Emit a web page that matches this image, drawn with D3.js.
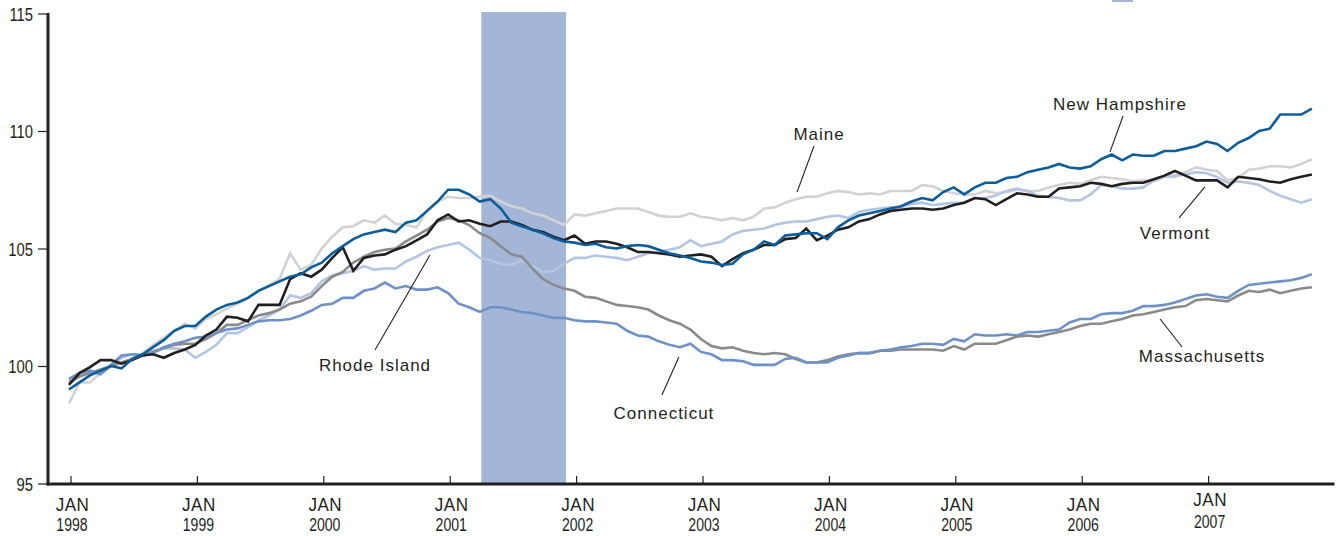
<!DOCTYPE html>
<html><head><meta charset="utf-8">
<script src="https://cdn.jsdelivr.net/npm/d3@7"></script>
<style>
body{margin:0;background:#fff}
svg{display:block;font-family:"Liberation Sans",Arial,Helvetica,sans-serif}
</style>
</head><body>
<svg id="chart" width="1340" height="536"></svg>
<script>
// ---------------- DATA ----------------
const startYear = 1998;            // monthly series, first value = Jan 1998
const tickYears = [1998, 1999, 2000, 2001, 2002, 2003, 2004, 2005, 2006, 2007];
const tickMonth = "JAN";
const yTicks = [95, 100, 105, 110, 115];
const recession = [2001.25, 2001.92];

const newHampshire = [
  99.0, 99.3, 99.6, 99.8, 100.0, 99.9, 100.3, 100.5, 100.8, 101.1, 101.5, 101.7,
  101.7, 102.1, 102.4, 102.6, 102.7, 102.9, 103.2, 103.4, 103.6, 103.8, 103.9, 104.2,
  104.4, 104.8, 105.1, 105.4, 105.6, 105.7, 105.8, 105.7, 106.1, 106.2, 106.6, 107.0,
  107.5, 107.5, 107.3, 107.0, 107.1, 106.7, 106.1, 105.95, 105.8, 105.65, 105.45, 105.3,
  105.25, 105.15, 105.2, 105.05, 105.0, 105.1, 105.15, 105.1, 104.95, 104.8, 104.7, 104.6,
  104.45, 104.4, 104.3, 104.35, 104.75, 104.95, 105.3, 105.15, 105.55, 105.6, 105.65, 105.65,
  105.4, 105.9, 106.2, 106.4, 106.5, 106.6, 106.7, 106.8, 107.0, 107.15, 107.05, 107.4,
  107.6, 107.3, 107.6, 107.8, 107.8, 108.0, 108.05, 108.25, 108.35, 108.45, 108.6, 108.45,
  108.4, 108.5, 108.8, 109.0, 108.75, 109.0, 108.95, 108.95, 109.15, 109.15, 109.25, 109.35,
  109.55, 109.45, 109.15, 109.5, 109.7, 110.0, 110.1, 110.7, 110.7, 110.7, 110.95
];
const maine = [
  98.4, 99.3, 99.3, 99.7, 100.0, 100.15, 100.3, 100.55, 100.9, 101.2, 101.5, 101.8,
  101.6, 102.0, 102.2, 102.45, 102.65, 102.9, 103.2, 103.45, 103.7, 104.8, 104.1, 104.3,
  105.0, 105.5, 105.9, 105.95, 106.2, 106.1, 106.4, 106.05, 106.0, 105.9, 106.6, 107.0,
  107.2, 107.15, 107.15, 107.2, 107.25, 107.0, 106.8, 106.7, 106.5, 106.4, 106.2, 106.0,
  106.45, 106.4, 106.5, 106.6, 106.7, 106.7, 106.7, 106.55, 106.4, 106.35, 106.35, 106.5,
  106.35, 106.3, 106.2, 106.3, 106.2, 106.35, 106.7, 106.75, 106.95, 107.1, 107.2, 107.2,
  107.35, 107.45, 107.4, 107.3, 107.35, 107.3, 107.45, 107.45, 107.45, 107.7, 107.65, 107.45,
  107.35, 107.3, 107.3, 107.45, 107.35, 107.4, 107.5, 107.45, 107.45, 107.6, 107.7, 107.8,
  107.75, 107.9, 108.05, 108.0, 107.95, 107.85, 107.9, 107.85, 108.05, 108.05, 108.25, 108.45,
  108.35, 108.3, 107.9, 108.0, 108.35, 108.4, 108.5, 108.5, 108.45, 108.6, 108.8
];
const vermont = [
  99.2, 99.7, 99.95, 100.25, 100.25, 100.1, 100.25, 100.45, 100.5, 100.35, 100.55, 100.7,
  100.9, 101.3, 101.55, 102.1, 102.05, 101.9, 102.6, 102.6, 102.6, 103.7, 103.95, 103.8,
  104.1, 104.6, 105.05, 104.05, 104.6, 104.7, 104.75, 104.95, 105.1, 105.35, 105.6, 106.2,
  106.45, 106.15, 106.2, 106.05, 105.95, 106.15, 106.15, 106.0, 105.8, 105.7, 105.5, 105.35,
  105.55, 105.2, 105.3, 105.3, 105.2, 105.05, 104.85, 104.85, 104.8, 104.75, 104.65, 104.7,
  104.75, 104.65, 104.25, 104.55, 104.8, 104.95, 105.15, 105.15, 105.4, 105.45, 105.85, 105.35,
  105.55, 105.8, 105.9, 106.15, 106.25, 106.45, 106.6, 106.65, 106.7, 106.7, 106.65, 106.7,
  106.85, 106.95, 107.15, 107.1, 106.85, 107.1, 107.35, 107.3, 107.2, 107.2, 107.55, 107.6,
  107.65, 107.8, 107.75, 107.65, 107.75, 107.8, 107.8, 107.95, 108.1, 108.3, 108.1, 107.9,
  107.9, 107.9, 107.6, 108.05, 108.0, 107.95, 107.85, 107.8, 107.95, 108.05, 108.15
];
const rhodeIsland = [
  99.4, 99.6, 99.8, 99.65, 100.0, 100.35, 100.5, 100.5, 100.65, 100.75, 100.75, 100.7,
  100.35, 100.6, 100.9, 101.4, 101.4, 101.65, 101.95, 102.15, 102.4, 103.0, 102.9, 103.1,
  103.6, 103.85, 103.95, 104.05, 104.25, 104.1, 104.15, 104.15, 104.45, 104.65, 104.9, 105.05,
  105.15, 105.25, 104.95, 104.6, 104.5, 104.35, 104.3, 104.5, 104.25, 104.0, 104.05, 104.35,
  104.6, 104.6, 104.7, 104.65, 104.6, 104.5, 104.65, 104.8, 104.85, 104.95, 105.05, 105.35,
  105.1, 105.2, 105.3, 105.6, 105.75, 105.8, 105.85, 106.0, 106.1, 106.15, 106.15, 106.25,
  106.35, 106.4, 106.3, 106.55, 106.65, 106.7, 106.75, 106.75, 106.9, 106.95, 106.85, 106.9,
  106.95, 106.95, 107.15, 107.15, 107.25, 107.45, 107.55, 107.45, 107.25, 107.2, 107.15, 107.05,
  107.05, 107.3, 107.7, 107.65, 107.55, 107.55, 107.6, 107.9, 108.05, 108.1, 108.15, 108.25,
  108.2, 108.05, 107.8, 107.85, 107.8, 107.7, 107.45, 107.25, 107.1, 106.95, 107.1
];
const connecticut = [
  99.45, 99.7, 99.8, 99.65, 100.05, 100.45, 100.5, 100.45, 100.55, 100.8, 100.95, 101.05,
  101.2, 101.25, 101.4, 101.55, 101.6, 101.75, 101.9, 101.95, 101.95, 102.0, 102.15, 102.35,
  102.6, 102.65, 102.9, 102.9, 103.2, 103.3, 103.55, 103.3, 103.4, 103.25, 103.25, 103.35,
  103.1, 102.65, 102.5, 102.3, 102.5, 102.5, 102.4, 102.3, 102.25, 102.15, 102.05, 102.05,
  101.95, 101.9, 101.9, 101.85, 101.8, 101.5, 101.3, 101.25, 101.05, 100.9, 100.8, 100.95,
  100.6, 100.5, 100.25, 100.25, 100.2, 100.05, 100.05, 100.05, 100.3, 100.35, 100.15, 100.15,
  100.15, 100.35, 100.45, 100.55, 100.55, 100.65, 100.7, 100.8, 100.85, 100.95, 100.95, 100.9,
  101.15, 101.05, 101.35, 101.3, 101.3, 101.35, 101.3, 101.45, 101.45, 101.5, 101.55, 101.85,
  102.0, 102.0, 102.2, 102.25, 102.25, 102.35, 102.55, 102.55, 102.6, 102.7, 102.85, 103.0,
  103.05, 102.95, 102.9, 103.2, 103.45, 103.5, 103.55, 103.6, 103.65, 103.75, 103.9
];
const massachusetts = [
  99.3, 99.55, 99.7, 99.85, 100.0, 100.15, 100.3, 100.45, 100.6, 100.75, 100.9, 100.95,
  100.95, 101.15, 101.4, 101.75, 101.75, 101.95, 102.15, 102.25, 102.4, 102.65, 102.75, 102.95,
  103.4, 103.8, 104.0, 104.4, 104.65, 104.85, 104.95, 105.0, 105.3, 105.55, 105.8, 106.15,
  106.3, 106.2, 106.0, 105.65, 105.45, 105.1, 104.75, 104.65, 104.15, 103.7, 103.45, 103.3,
  103.2, 102.95, 102.9, 102.75, 102.6, 102.55, 102.5, 102.4, 102.15, 101.95, 101.8, 101.55,
  101.15, 100.85, 100.75, 100.8, 100.65, 100.55, 100.5, 100.55, 100.5, 100.3, 100.15, 100.15,
  100.25, 100.4, 100.5, 100.55, 100.55, 100.65, 100.65, 100.7, 100.7, 100.7, 100.7, 100.65,
  100.85, 100.7, 100.95, 100.95, 100.95, 101.1, 101.25, 101.3, 101.25, 101.35, 101.45, 101.55,
  101.7, 101.8, 101.8, 101.9, 102.0, 102.15, 102.2, 102.3, 102.4, 102.5, 102.55, 102.8,
  102.85, 102.8, 102.75, 103.0, 103.2, 103.15, 103.25, 103.1, 103.2, 103.3, 103.35
];

// series in drawing order (bottom to top)
const seriesNames  = ["Maine", "Rhode Island", "Massachusetts", "Connecticut", "Vermont", "New Hampshire"];
const seriesValues = [maine, rhodeIsland, massachusetts, connecticut, vermont, newHampshire];
const seriesColors = ["#d2d2d2", "#b3c5e3", "#8a8a8a", "#6e92c8", "#231f20", "#0b5d9c"];

// label text, label anchor [year, value], pointer from [year,value] to [year,value]
const labelNames  = ["Maine", "New Hampshire", "Vermont", "Massachusetts", "Connecticut", "Rhode Island"];
const labelAnchor = [[2003.922, 109.62], [2006.303, 110.89], [2006.738, 105.40], [2006.952, 100.17], [2002.695, 97.75], [2000.409, 99.79]];
const pointerFrom = [[2003.748, 107.40], [2006.224, 109.11], [2006.770, 106.30], [2006.794, 100.81], [2002.679, 98.77], [2000.409, 100.68]];
const pointerTo   = [[2003.882, 109.36], [2006.327, 110.64], [2006.975, 107.62], [2006.620, 102.00], [2002.813, 100.38], [2000.844, 104.72]];

// ---------------- CHART ----------------
const svg = d3.select("#chart");
const ink = "#231f20";
const x = d3.scaleLinear().domain([1997.822, 2008]).range([48, 1334.5]);
const y = d3.scaleLinear().domain([95, 115]).range([483.5, 13.5]);
const monthTime = i => startYear + (i - 0.15) / 12;

// cut-off legend swatch at top edge
svg.append("rect").attr("x", 1112).attr("y", -10).attr("width", 21).attr("height", 12).attr("fill", "#a4b6d8");

// recession band
svg.append("rect")
  .attr("x", x(recession[0])).attr("y", y(115) - 1.5)
  .attr("width", x(recession[1]) - x(recession[0]))
  .attr("height", y(95) - y(115) + 1.5)
  .attr("fill", "#a4b6d8");

// lines
const line = d3.line().x((d, i) => x(monthTime(i))).y(d => y(d));
seriesValues.forEach((vals, k) => {
  svg.append("path").datum(vals)
    .attr("d", line)
    .attr("fill", "none")
    .attr("stroke", seriesColors[k])
    .attr("stroke-width", 2.6)
    .attr("stroke-linejoin", "miter")
    .attr("stroke-miterlimit", 3);
});

// y axis
const yAxis = svg.append("g").attr("transform", "translate(48,0)")
  .call(d3.axisLeft(y).tickValues(yTicks).tickSize(10).tickFormat(""));
yAxis.select(".domain").remove();
yAxis.selectAll(".tick line").attr("stroke", ink).attr("stroke-width", 1.2);
yAxis.selectAll(".tick").append("text")
  .attr("transform", "translate(-15,6.8) scale(0.78,1)")
  .attr("text-anchor", "end").attr("fill", ink)
  .style("font-size", "19px")
  .text(d => d3.format("d")(d));

// x axis
const xAxis = svg.append("g").attr("transform", "translate(0,484)")
  .call(d3.axisBottom(x).tickValues(tickYears).tickSize(-8).tickFormat(""));
xAxis.select(".domain").remove();
xAxis.selectAll(".tick line").attr("stroke", ink).attr("stroke-width", 1.2);
const lift = d => (d === 2007 ? -5 : 0);
xAxis.selectAll(".tick").append("text")
  .attr("transform", d => `translate(1.5,${27 + lift(d)}) scale(0.95,1)`)
  .attr("text-anchor", "middle").attr("fill", ink)
  .style("font-size", "18px").style("letter-spacing", "0.5px")
  .text(tickMonth);
xAxis.selectAll(".tick").append("text")
  .attr("transform", d => `translate(1,${47 + lift(d) * 0.6}) scale(0.76,1)`)
  .attr("text-anchor", "middle").attr("fill", ink)
  .style("font-size", "18.5px")
  .text(d => d);

// axis lines (thick)
svg.append("line").attr("x1", 48).attr("x2", 48).attr("y1", y(115) - 0.5).attr("y2", 485.5)
  .attr("stroke", ink).attr("stroke-width", 3);
svg.append("line").attr("x1", 46.5).attr("x2", x(2008)).attr("y1", 484).attr("y2", 484)
  .attr("stroke", ink).attr("stroke-width", 3);

// annotations
labelNames.forEach((name, k) => {
  svg.append("line")
    .attr("x1", x(pointerFrom[k][0])).attr("y1", y(pointerFrom[k][1]))
    .attr("x2", x(pointerTo[k][0])).attr("y2", y(pointerTo[k][1]))
    .attr("stroke", ink).attr("stroke-width", 1.1);
  svg.append("text")
    .attr("x", x(labelAnchor[k][0])).attr("y", y(labelAnchor[k][1]))
    .attr("text-anchor", "middle").attr("fill", ink)
    .style("font-size", "17px").style("letter-spacing", "1px")
    .text(name);
});
</script>
</body></html>
